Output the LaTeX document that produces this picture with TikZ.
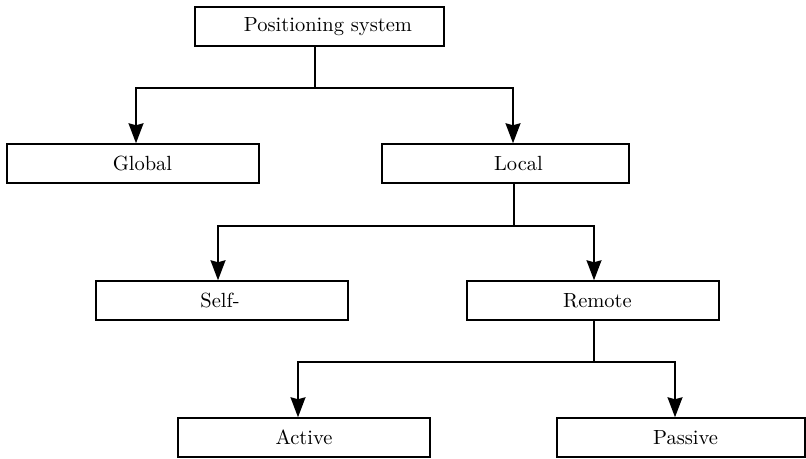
\documentclass[tikz,border=0pt]{standalone}
\usetikzlibrary{arrows.meta,calc}
\begin{document}
\begin{tikzpicture}[x=0.5pt,y=-0.5pt,
  box/.style={draw,line width=0.75pt,rectangle,inner sep=0pt,minimum width=126pt,minimum height=19.5pt,font=\fontsize{10.25}{12}\selectfont},
  boxlbl/.style={font=\fontsize{10.25}{12}\selectfont},
  conn/.style={line width=0.75pt},
  arr/.style={line width=0.75pt,-{Stealth[length=10pt,width=7.5pt,inset=1pt]}}]
\useasboundingbox (0,0) rectangle (806,459);
\node[box,minimum width=124.5pt,label={[boxlbl,xshift=4.25pt]center:Positioning system}] (ps) at (319.5,26.5) {};
\node[box,label={[boxlbl,xshift=4.75pt]center:Global}] (gl) at (133,163.5) {};
\node[box,minimum width=123.5pt,label={[boxlbl,xshift=6.5pt]center:Local}] (lo) at (505.5,163.5) {};
\node[box,label={[boxlbl,xshift=-1pt]center:Self-}] (se) at (222,300.5) {};
\node[box,label={[boxlbl,xshift=2.25pt]center:Remote}] (re) at (593,300.5) {};
\node[box,label={[boxlbl]center:Active}] (ac) at (304,437.5) {};
\node[box,minimum width=124pt,label={[boxlbl,xshift=2.25pt]center:Passive}] (pa) at (681,437.5) {};
\coordinate (j1) at (315,88);
\coordinate (j2) at (514,226);
\coordinate (j3) at (594,362);
\draw[conn] (ps.south -| j1) -- (j1);
\draw[arr] (j1) -| (gl.north -| 136,0);
\draw[arr] (j1) -| (lo.north -| 513,0);
\draw[conn] (lo.south -| j2) -- (j2);
\draw[arr] (j2) -| (se.north -| 218,0);
\draw[arr] (j2) -| (re.north -| 594,0);
\draw[conn] (re.south -| j3) -- (j3);
\draw[arr] (j3) -| (ac.north -| 298,0);
\draw[arr] (j3) -| (pa.north -| 675,0);
\end{tikzpicture}
\end{document}
